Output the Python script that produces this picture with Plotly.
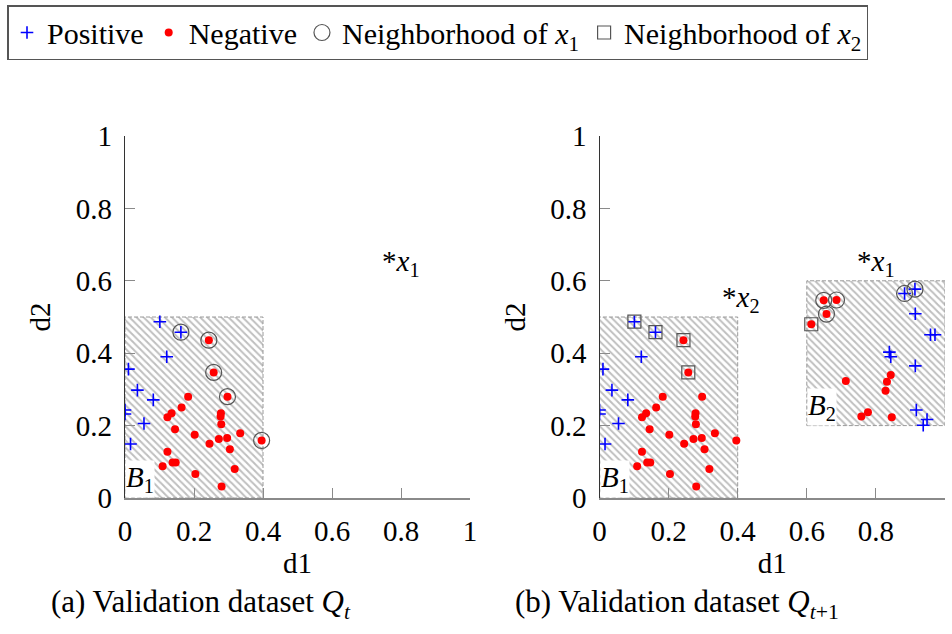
import plotly.graph_objects as go

# ---- data ---------------------------------------------------------------
# Box B1 points (shared by both panels)
b1_pos_x = [0.101, 0.162, 0.121, 0.010, 0.036, 0.082, 0.000, 0.000, 0.055, 0.016]
b1_pos_y = [0.487, 0.458, 0.390, 0.356, 0.298, 0.271, 0.243, 0.232, 0.206, 0.149]
b1_neg_x = [0.243, 0.257, 0.297, 0.396, 0.183, 0.164, 0.135, 0.123, 0.278, 0.277,
            0.279, 0.145, 0.202, 0.272, 0.296, 0.334, 0.245, 0.304, 0.123, 0.138,
            0.147, 0.109, 0.318, 0.204, 0.280]
b1_neg_y = [0.436, 0.347, 0.280, 0.159, 0.280, 0.250, 0.234, 0.223, 0.234, 0.225,
            0.204, 0.190, 0.175, 0.163, 0.166, 0.179, 0.150, 0.135, 0.128, 0.098,
            0.098, 0.088, 0.080, 0.066, 0.032]

# Box B2 points (second panel only)
b2_pos_x = [0.883, 0.913, 0.914, 0.958, 0.971, 0.839, 0.843, 0.914, 0.917, 0.948, 0.937]
b2_pos_y = [0.565, 0.577, 0.509, 0.451, 0.451, 0.403, 0.390, 0.365, 0.243, 0.217, 0.201]
b2_neg_x = [0.649, 0.686, 0.657, 0.613, 0.713, 0.843, 0.832, 0.828, 0.777, 0.758, 0.846]
b2_neg_y = [0.546, 0.547, 0.508, 0.480, 0.323, 0.340, 0.321, 0.296, 0.237, 0.225, 0.223]

# Neighborhoods of the query points
nb_x1_left_x = [0.162, 0.243, 0.257, 0.297, 0.396]
nb_x1_left_y = [0.458, 0.436, 0.347, 0.280, 0.159]
nb_x1_right_x = [0.649, 0.686, 0.657, 0.883, 0.913]
nb_x1_right_y = [0.546, 0.547, 0.508, 0.565, 0.577]
nb_x2_right_x = [0.101, 0.162, 0.243, 0.257, 0.613]
nb_x2_right_y = [0.487, 0.458, 0.436, 0.347, 0.480]

# Query points
query_x1 = (0.80, 0.65)
query_x2 = (0.41, 0.55)

# Boxes: (x0, x1, y0, y1)
box_b1 = (0.0, 0.4, 0.0, 0.5)
box_b2 = (0.6, 1.0, 0.2, 0.6)

ticks = [0, 0.2, 0.4, 0.6, 0.8, 1]
tick_text = ["0", "0.2", "0.4", "0.6", "0.8", "1"]

# ---- styling ------------------------------------------------------------
FONT = "Liberation Serif, serif"
FS = 29
BLUE = "#0000ff"
RED = "#ff0000"
GREY = "#555555"

W, H = 952, 634
y_dom = [(H - 498) / H, (H - 136) / H]
x_dom_a = [125 / W, 470 / W]
x_dom_b = [599.5 / W, 945 / W]

fig = go.Figure()


def add_box(box, xa, ya):
    x0, x1, y0, y1 = box
    fig.add_trace(go.Scatter(
        x=[x0, x1, x1, x0, x0], y=[y0, y0, y1, y1, y0],
        mode="lines", fill="toself",
        fillpattern=dict(shape="\\", fgcolor="#808080", bgcolor="white",
                         size=5, solidity=0.4),
        fillcolor="white",
        line=dict(color="#9a9a9a", width=1, dash="4px,2px"),
        xaxis=xa, yaxis=ya, showlegend=False, hoverinfo="skip"))


add_box(box_b1, "x", "y")
add_box(box_b1, "x2", "y2")
add_box(box_b2, "x2", "y2")

pos_marker = dict(symbol="cross-thin", size=9, line=dict(color=BLUE, width=1.6), color=BLUE)
neg_marker = dict(symbol="circle", size=8, color=RED)
circ_marker = dict(symbol="circle-open", size=16, color=GREY, line=dict(width=1.2, color=GREY))
sq_marker = dict(symbol="square-open", size=13, color=GREY, line=dict(width=1.2, color=GREY))

# panel (a)
fig.add_trace(go.Scatter(x=b1_pos_x, y=b1_pos_y, mode="markers", marker=pos_marker,
                         name="Positive", legendgroup="pos", xaxis="x", yaxis="y"))
fig.add_trace(go.Scatter(x=b1_neg_x, y=b1_neg_y, mode="markers", marker=neg_marker,
                         name="Negative", legendgroup="neg", xaxis="x", yaxis="y"))
fig.add_trace(go.Scatter(x=nb_x1_left_x, y=nb_x1_left_y, mode="markers", marker=circ_marker,
                         name="Neighborhood of <i>x</i><sub>1</sub>", legendgroup="n1",
                         xaxis="x", yaxis="y"))

# panel (b)
fig.add_trace(go.Scatter(x=b1_pos_x + b2_pos_x, y=b1_pos_y + b2_pos_y, mode="markers",
                         marker=pos_marker, name="Positive", legendgroup="pos",
                         showlegend=False, xaxis="x2", yaxis="y2"))
fig.add_trace(go.Scatter(x=b1_neg_x + b2_neg_x, y=b1_neg_y + b2_neg_y, mode="markers",
                         marker=neg_marker, name="Negative", legendgroup="neg",
                         showlegend=False, xaxis="x2", yaxis="y2"))
fig.add_trace(go.Scatter(x=nb_x1_right_x, y=nb_x1_right_y, mode="markers", marker=circ_marker,
                         name="Neighborhood of <i>x</i><sub>1</sub>", legendgroup="n1",
                         showlegend=False, xaxis="x2", yaxis="y2"))
fig.add_trace(go.Scatter(x=nb_x2_right_x, y=nb_x2_right_y, mode="markers", marker=sq_marker,
                         name="Neighborhood of <i>x</i><sub>2</sub>", legendgroup="n2",
                         xaxis="x2", yaxis="y2"))

axis_common = dict(
    range=[0, 1], tickvals=ticks, ticktext=tick_text, ticks="inside", ticklen=10,
    tickcolor="#8a8a8a", tickwidth=1, showgrid=False, zeroline=False, showline=True,
    automargin=False, tickfont=dict(family=FONT, size=FS, color="black"),
    ticklabelstandoff=6,
)

fig.update_layout(
    width=W, height=H, margin=dict(l=0, r=0, t=0, b=0),
    paper_bgcolor="white", plot_bgcolor="white",
    font=dict(family=FONT, size=FS, color="black"),
    xaxis=dict(axis_common, domain=x_dom_a, anchor="y", linecolor="#8a8a8a", linewidth=1.5,
               title=dict(text="d1", standoff=7, font=dict(family=FONT, size=FS))),
    yaxis=dict(axis_common, domain=y_dom, anchor="x", linecolor="#333333", linewidth=1.2,
               title=dict(text="d2", standoff=16, font=dict(family=FONT, size=FS))),
    xaxis2=dict(axis_common, domain=x_dom_b, anchor="y2", linecolor="#8a8a8a", linewidth=1.5,
                title=dict(text="d1", standoff=7, font=dict(family=FONT, size=FS))),
    yaxis2=dict(axis_common, domain=y_dom, anchor="x2", linecolor="#333333", linewidth=1.2,
                title=dict(text="d2", standoff=16, font=dict(family=FONT, size=FS))),
    legend=dict(orientation="h", x=7 / W, y=1 - 5 / H, xanchor="left", yanchor="top",
                bordercolor="#555555", borderwidth=1.5, bgcolor="white",
                font=dict(family=FONT, size=FS + 1), itemwidth=30,
                tracegroupgap=0),
    showlegend=True,
)

annotations = []
# query point labels
for xr, yr in (("x", "y"), ("x2", "y2")):
    annotations.append(dict(x=query_x1[0], y=query_x1[1], xref=xr, yref=yr,
                            text="*<i>x</i><sub>1</sub>", showarrow=False,
                            font=dict(family=FONT, size=FS)))
annotations.append(dict(x=query_x2[0], y=query_x2[1], xref="x2", yref="y2",
                        text="*<i>x</i><sub>2</sub>", showarrow=False,
                        font=dict(family=FONT, size=FS)))
# box labels
for box, name, xr, yr in ((box_b1, "1", "x", "y"), (box_b1, "1", "x2", "y2"),
                          (box_b2, "2", "x2", "y2")):
    annotations.append(dict(x=box[0], y=box[2], xref=xr, yref=yr, xanchor="left",
                            yanchor="bottom", text="<i>B</i><sub>" + name + "</sub>",
                            showarrow=False, bgcolor="white", borderpad=0,
                            font=dict(family=FONT, size=FS)))
# panel captions
annotations.append(dict(x=201 / W, y=1 - 604 / H, xref="paper", yref="paper",
                        xanchor="center", yanchor="middle",
                        text="(a) Validation dataset <i>Q</i><sub><i>t</i></sub>",
                        showarrow=False, font=dict(family=FONT, size=FS + 2)))
annotations.append(dict(x=677 / W, y=1 - 604 / H, xref="paper", yref="paper",
                        xanchor="center", yanchor="middle",
                        text="(b) Validation dataset <i>Q</i><sub><i>t</i>+1</sub>",
                        showarrow=False, font=dict(family=FONT, size=FS + 2)))
fig.update_layout(annotations=annotations)

fig.write_html("out.html")
